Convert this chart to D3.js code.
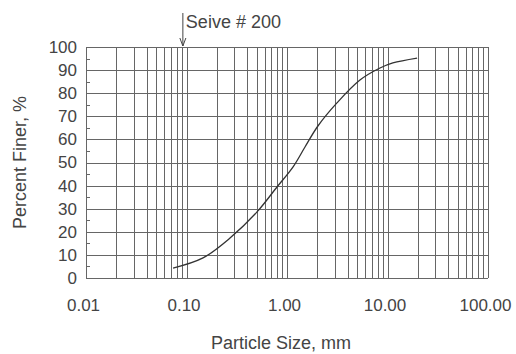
<!DOCTYPE html>
<meta charset="utf-8">
<style>
body { margin: 0; background: #fff; font-family: "Liberation Sans", Arial, sans-serif; }
.grid line { stroke: #666; stroke-width: 1; shape-rendering: crispEdges; }
.grid path { display: none; }
.lbl text { fill: #444; font-size: 17px; font-family: "Liberation Sans", Arial, sans-serif; }
.lbl path, .lbl line { display: none; }
</style>
<script src="https://d3js.org/d3.v7.min.js"></script>
<body>
<div id="chart"></div>
<script>
// values
var sizes = [0.0735, 0.146, 0.271, 0.503, 0.795, 1.15, 1.51, 2.03, 3.14, 5.32, 8.42, 11.3, 19.7];
var finer = [4.3, 8.7, 17.3, 28.6, 39.4, 48.1, 56.7, 65.8, 75.8, 85.7, 90.9, 93.1, 95.2];
var xTicks = [0.01, 0.1, 1, 10, 100];
var xTickLabels = ["0.01", "0.10", "1.00", "10.00", "100.00"];
var yTicks = [0, 10, 20, 30, 40, 50, 60, 70, 80, 90, 100];
var sieve200 = 0.092;

var margin = {top: 47, right: 28, bottom: 76, left: 86},
    width = 516 - margin.left - margin.right,
    height = 354 - margin.top - margin.bottom;

var svg = d3.select("#chart")
  .append("svg")
    .attr("width", 516)
    .attr("height", 354)
  .append("g")
    .attr("transform", "translate(" + margin.left + "," + margin.top + ")");

var x = d3.scaleLog().domain([0.01, 100]).range([0, width]);
var y = d3.scaleLinear().domain([0, 100]).range([height, 0]);

// log grid lines 1..9 per decade
var minor = [];
[0.01, 0.1, 1, 10].forEach(function(d) {
  for (var k = 1; k <= 9; k++) minor.push(d * k);
});
minor.push(100);

svg.append("g")
  .attr("class", "grid")
  .attr("transform", "translate(0," + height + ")")
  .call(d3.axisBottom(x).tickValues(minor).tickSize(-height).tickFormat(""));

svg.append("g")
  .attr("class", "grid")
  .call(d3.axisLeft(y).tickValues(yTicks).tickSize(-width).tickFormat(""));

// small ticks on the left edge
svg.append("g")
  .attr("class", "grid")
  .call(d3.axisLeft(y).tickValues(d3.range(5, 100, 10)).tickSize(-4).tickFormat(""));

// tick labels
svg.append("g")
  .attr("class", "lbl")
  .attr("transform", "translate(-3," + height + ")")
  .call(d3.axisBottom(x).tickValues(xTicks).tickSize(0).tickPadding(21)
    .tickFormat(function(d, i) { return xTickLabels[i]; }));

svg.append("g")
  .attr("class", "lbl")
  .call(d3.axisLeft(y).tickValues(yTicks).tickSize(0).tickPadding(9));

// curve
svg.append("path")
  .datum(sizes.map(function(d, i) { return [d, finer[i]]; }))
  .attr("fill", "none")
  .attr("stroke", "#333")
  .attr("stroke-width", 1.3)
  .attr("d", d3.line()
    .x(function(d) { return x(d[0]); })
    .y(function(d) { return y(d[1]); })
    .curve(d3.curveCatmullRom));

// sieve #200 marker
svg.append("line")
  .attr("x1", x(sieve200)).attr("x2", x(sieve200))
  .attr("y1", -34).attr("y2", -1)
  .attr("stroke", "#444").attr("stroke-width", 1);
svg.append("path")
  .attr("d", "M" + (x(sieve200) - 3) + "," + (-9) + "L" + x(sieve200) + "," + (-1) + "L" + (x(sieve200) + 3) + "," + (-9))
  .attr("fill", "none").attr("stroke", "#444");
svg.append("text")
  .attr("x", x(sieve200) + 3)
  .attr("y", -19)
  .style("font-size", "18px")
  .style("fill", "#444")
  .text("Seive # 200");

// axis titles
svg.append("text")
  .attr("x", width / 2 - 6)
  .attr("y", height + 71)
  .style("text-anchor", "middle")
  .style("font-size", "18px")
  .style("fill", "#444")
  .text("Particle Size, mm");

svg.append("text")
  .attr("transform", "rotate(-90)")
  .attr("x", -height / 2)
  .attr("y", -60)
  .style("text-anchor", "middle")
  .style("font-size", "18px")
  .style("fill", "#444")
  .text("Percent Finer, %");
</script>
